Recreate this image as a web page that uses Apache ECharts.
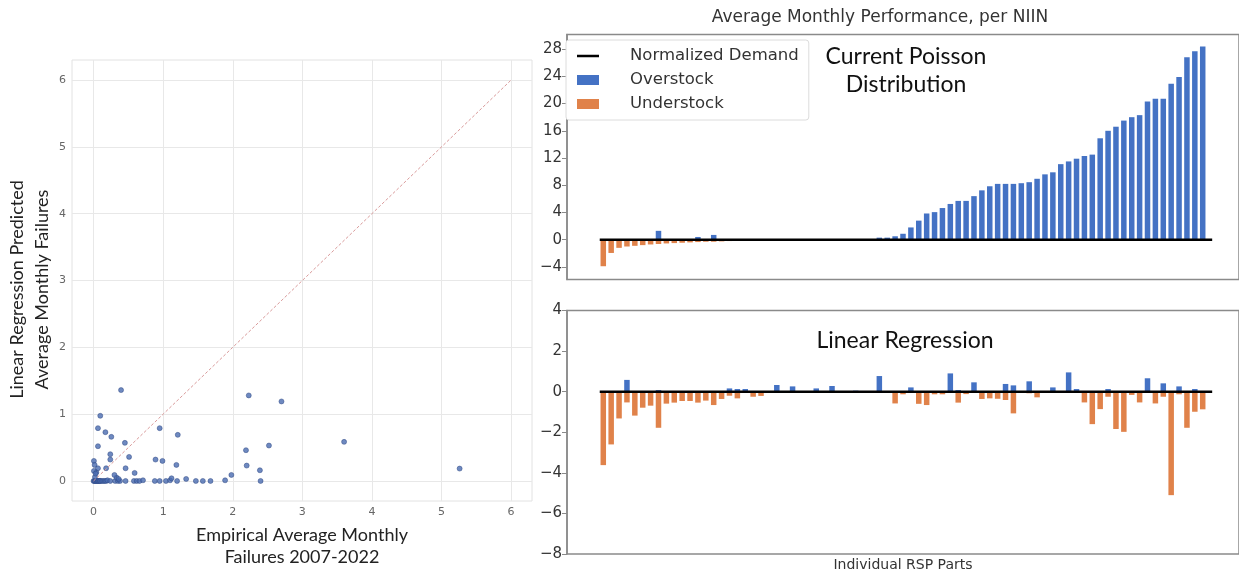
<!DOCTYPE html>
<html><head><meta charset="utf-8">
<script src="https://cdn.jsdelivr.net/npm/echarts@6/dist/echarts.min.js"></script>
<style>html,body{margin:0;padding:0;background:#fff}#c{width:1239px;height:573px}</style>
</head><body><div id="c"></div>
<script>
// ---- Left: scatter of empirical vs predicted average monthly failures ----
const empiricalX = [0.00,0.01,0.02,0.03,0.04,0.05,0.06,0.07,0.08,0.09,0.10,0.12,0.14,0.16,0.18,0.20,0.24,0.31,0.35,0.38,0.46,0.58,0.62,0.66,0.71,0.88,0.95,1.04,1.10,1.20,1.47,1.57,1.68,
  0.33,0.36,1.12,1.33,1.89,1.98,0.02,0.04,
  0.395,0.096,0.063,0.17,0.255,0.063,0.45,0.24,0.24,0.51,0.005,0.015,0.063,0.18,0.005,0.03,0.46,0.59,0.30,0.95,1.21,0.89,0.99,1.19,2.23,2.70,2.52,2.19,2.20,2.39,2.40,3.60,5.26];
const predictedY = [0,0,0,0,0,0,0,0,0,0,0,0,0,0,0,0.01,0,0,0,0,0,0,0,0,0.01,0,0,0,0.01,0,0,0,0,
  0.05,0.03,0.04,0.03,0.01,0.09,0.06,0.13,
  1.36,0.975,0.79,0.73,0.66,0.52,0.57,0.40,0.32,0.36,0.30,0.24,0.19,0.19,0.15,0.11,0.19,0.12,0.09,0.79,0.69,0.32,0.30,0.24,1.28,1.19,0.53,0.46,0.23,0.16,0.0,0.585,0.185];
const identityLine = [0, 6];
const scatterTicks = [0, 1, 2, 3, 4, 5, 6];

// ---- Right: average monthly performance per NIIN (77 parts) ----
const poissonOver = [
  0, 0, 0, 0, 0, 0, 0, 1.3, 0, 0,
  0, 0, 0.4, 0, 0.7, 0, 0, 0, 0, 0,
  0, 0, 0, 0, 0, 0, 0, 0, 0, 0,
  0, 0, 0, 0, 0, 0.3, 0.3, 0.5, 0.87, 1.8,
  2.8, 3.85, 4.05, 4.65, 5.25, 5.7, 5.7, 6.4, 7.25, 7.85,
  8.2, 8.2, 8.2, 8.3, 8.45, 8.95, 9.6, 9.9, 11.1, 11.5,
  11.9, 12.3, 12.5, 14.9, 16.0, 16.6, 17.5, 18.0, 18.3, 20.3,
  20.7, 20.7, 22.9, 23.9, 26.8, 27.7, 28.4];
const poissonUnder = [
  -3.9, -1.95, -1.2, -1.0, -0.9, -0.8, -0.7, -0.63, -0.55, -0.5,
  -0.45, -0.4, -0.35, -0.3, -0.3, -0.25, -0.2, -0.15, 0, 0,
  0, 0, 0, 0, 0, 0, 0, 0, 0, 0,
  0, 0, 0, 0, 0, 0, 0, 0, 0, 0,
  0, 0, 0, 0, 0, 0, 0, 0, 0, 0,
  0, 0, 0, 0, 0, 0, 0, 0, 0, 0,
  0, 0, 0, 0, 0, 0, 0, 0, 0, 0,
  0, 0, 0, 0, 0, 0, 0];
const lrOver = [
  0, 0, 0, 0.58, 0, 0, 0, 0.08, 0, 0,
  0, 0, 0, 0, 0, 0, 0.16, 0.13, 0.13, 0,
  0, 0, 0.33, 0, 0.26, 0, 0, 0.16, 0, 0.28,
  0, 0, 0.05, 0, 0, 0.77, 0, 0, 0, 0.21,
  0, 0, 0, 0, 0.9, 0.08, 0, 0.46, 0, 0,
  0, 0.38, 0.31, 0, 0.51, 0, 0, 0.21, 0, 0.95,
  0.13, 0, 0, 0, 0.13, 0, 0, 0, 0, 0.66,
  0, 0.41, 0, 0.26, 0, 0.13, 0];
const lrUnder = [
  -3.62, -2.6, -1.32, -0.53, -1.18, -0.79, -0.69, -1.78, -0.59, -0.54,
  -0.46, -0.46, -0.54, -0.44, -0.66, -0.36, -0.2, -0.33, -0.05, -0.25,
  -0.21, 0, -0.05, 0, 0, 0, 0, 0, 0, 0,
  0, 0, 0, 0, 0, 0, 0, -0.58, -0.13, 0,
  -0.6, -0.66, -0.13, -0.13, 0, -0.54, -0.12, 0, -0.36, -0.33,
  -0.35, -0.41, -1.07, 0, -0.08, -0.28, 0, 0, 0, 0,
  0, -0.53, -1.6, -0.86, -0.25, -1.84, -1.98, -0.16, -0.53, 0,
  -0.58, -0.25, -5.1, -0.13, -1.78, -0.99, -0.87];
const poissonTicks = [-4, 0, 4, 8, 12, 16, 20, 24, 28];
const lrTicks = [-8, -6, -4, -2, 0, 2, 4];
const normalizedDemand = 0;

const BLUE = '#4472c4', ORANGE = '#e0824a';
const N = poissonOver.length;
const toPts = arr => arr.map((v, i) => [i, v]);
const demandPts = [[-0.45, normalizedDemand], [N + 0.2, normalizedDemand]];

const chart = echarts.init(document.getElementById('c'), null, {renderer: 'canvas'});
const dj = 'DejaVu Sans';
const frameColor = '#8a8a8a';

const rightY = (gi, min, max, ticks) => ({
  type: 'value', gridIndex: gi, min: min, max: max,
  axisLine: {show: true, onZero: false, lineStyle: {color: frameColor, width: 1.5}},
  axisTick: {show: true, length: 5, customValues: ticks, lineStyle: {color: frameColor}},
  axisLabel: {customValues: ticks, fontFamily: dj, fontSize: 15, color: '#333', margin: 5,
    formatter: v => (v < 0 ? '\u2212' + Math.abs(v) : String(v))},
  splitLine: {show: false}
});
const rightX = (gi, extra) => Object.assign({
  type: 'value', gridIndex: gi, min: -4.6, max: 80.6,
  axisLine: {show: false, onZero: false}, axisTick: {show: false}, axisLabel: {show: false}, splitLine: {show: false}
}, extra || {});

chart.setOption({
  animation: false,
  backgroundColor: '#fff',
  title: [
    {text: 'Average Monthly Performance, per NIIN', left: 880, top: 9, padding: 0, textAlign: 'center',
      textStyle: {fontFamily: dj, fontSize: 17, fontWeight: 'normal', color: '#333'}},
    {text: 'Current Poisson\nDistribution', left: 906, top: 43, padding: 0, textAlign: 'center',
      textStyle: {fontFamily: "'Liberation Sans Narrow', Lato", fontSize: 23, lineHeight: 28, fontWeight: 'normal', color: '#111'}},
    {text: 'Linear Regression', left: 905, top: 327, padding: 0, textAlign: 'center',
      textStyle: {fontFamily: "'Liberation Sans Narrow', Lato", fontSize: 23, lineHeight: 28, fontWeight: 'normal', color: '#111'}}
  ],
  legend: {
    left: 566, top: 40, orient: 'vertical', padding: [7, 10, 7, 11],
    borderColor: '#dcdcdc', borderWidth: 1, borderRadius: 3, backgroundColor: '#fff',
    itemWidth: 22, itemHeight: 10, itemGap: 6, selectedMode: false,
    textStyle: {fontFamily: dj, fontSize: 16.5, color: '#333', lineHeight: 18, padding: [0, 0, 0, 26]},
    data: [
      {name: 'Normalized Demand', icon: 'path://M0,0 L0.5,0 L0.5,0.05 Z M0,3.7 L22,3.7 L22,6.3 L0,6.3 Z M21.5,10 L22,10 L22,9.95 Z',
        itemStyle: {color: '#000'}},
      {name: 'Overstock', icon: 'rect'},
      {name: 'Understock', icon: 'rect'}
    ]
  },
  grid: [
    {left: 72, top: 60, width: 460, height: 442, show: true, borderColor: '#e2e2e2', borderWidth: 1},
    {left: 567, top: 34.5, width: 673, height: 245, show: true, borderColor: frameColor, borderWidth: 1.5},
    {left: 567, top: 310.5, width: 673, height: 245, show: true, borderColor: frameColor, borderWidth: 1.5}
  ],
  xAxis: [
    {type: 'value', gridIndex: 0, min: -0.31, max: 6.3,
      name: 'Empirical Average Monthly\nFailures 2007-2022', nameLocation: 'middle', nameGap: 23,
      nameTextStyle: {fontFamily: 'Lato', fontSize: 18, lineHeight: 22, color: '#222'},
      axisLine: {show: false, onZero: false},
      axisTick: {show: false, customValues: scatterTicks},
      axisLabel: {customValues: scatterTicks, fontFamily: dj, fontSize: 11, color: '#666', margin: 6},
      splitLine: {show: true, lineStyle: {color: '#e8e8e8', width: 1}}},
    rightX(1),
    rightX(2, {name: 'Individual RSP Parts', nameLocation: 'middle', nameGap: 4,
      nameTextStyle: {fontFamily: dj, fontSize: 14, color: '#333', verticalAlign: 'top'}})
  ],
  yAxis: [
    {type: 'value', gridIndex: 0, min: -0.3, max: 6.3,
      name: 'Linear Regression Predicted\nAverage Monthly Failures', nameLocation: 'middle', nameGap: 12, nameRotate: 90,
      nameTextStyle: {fontFamily: 'Lato', fontSize: 18, lineHeight: 25, color: '#222', padding: [0, 18, 0, 0]},
      axisLine: {show: false, onZero: false},
      axisTick: {show: false, customValues: scatterTicks},
      axisLabel: {customValues: scatterTicks, fontFamily: dj, fontSize: 11, color: '#666', margin: 6},
      splitLine: {show: true, lineStyle: {color: '#e8e8e8', width: 1}}},
    rightY(1, -5.85, 30.15, poissonTicks),
    rightY(2, -8, 4, lrTicks)
  ],
  series: [
    {type: 'line', name: 'Perfect prediction', xAxisIndex: 0, yAxisIndex: 0,
      data: identityLine.map(v => [v, v]), symbol: 'none', silent: true,
      lineStyle: {color: '#d99a9a', width: 1, type: [3, 2]}},
    {type: 'scatter', name: 'NIIN', xAxisIndex: 0, yAxisIndex: 0,
      data: empiricalX.map((x, i) => [x, predictedY[i]]), symbolSize: 5,
      itemStyle: {color: '#4a6cb0', borderColor: '#2d4680', borderWidth: 0.6}},

    {type: 'bar', name: 'Overstock', xAxisIndex: 1, yAxisIndex: 1, stack: 'poisson', barWidth: 5.5,
      data: toPts(poissonOver), itemStyle: {color: BLUE}},
    {type: 'bar', name: 'Understock', xAxisIndex: 1, yAxisIndex: 1, stack: 'poisson', barWidth: 5.5,
      data: toPts(poissonUnder), itemStyle: {color: ORANGE}},
    {type: 'line', name: 'Normalized Demand', xAxisIndex: 1, yAxisIndex: 1, data: demandPts,
      symbol: 'none', z: 5, lineStyle: {color: '#000', width: 2.5}, itemStyle: {color: '#000'}},

    {type: 'bar', name: 'Overstock', xAxisIndex: 2, yAxisIndex: 2, stack: 'lr', barWidth: 5.5,
      data: toPts(lrOver), itemStyle: {color: BLUE}},
    {type: 'bar', name: 'Understock', xAxisIndex: 2, yAxisIndex: 2, stack: 'lr', barWidth: 5.5,
      data: toPts(lrUnder), itemStyle: {color: ORANGE}},
    {type: 'line', name: 'Normalized Demand', xAxisIndex: 2, yAxisIndex: 2, data: demandPts,
      symbol: 'none', z: 5, lineStyle: {color: '#000', width: 2.5}, itemStyle: {color: '#000'}}
  ]
});
</script></body></html>
